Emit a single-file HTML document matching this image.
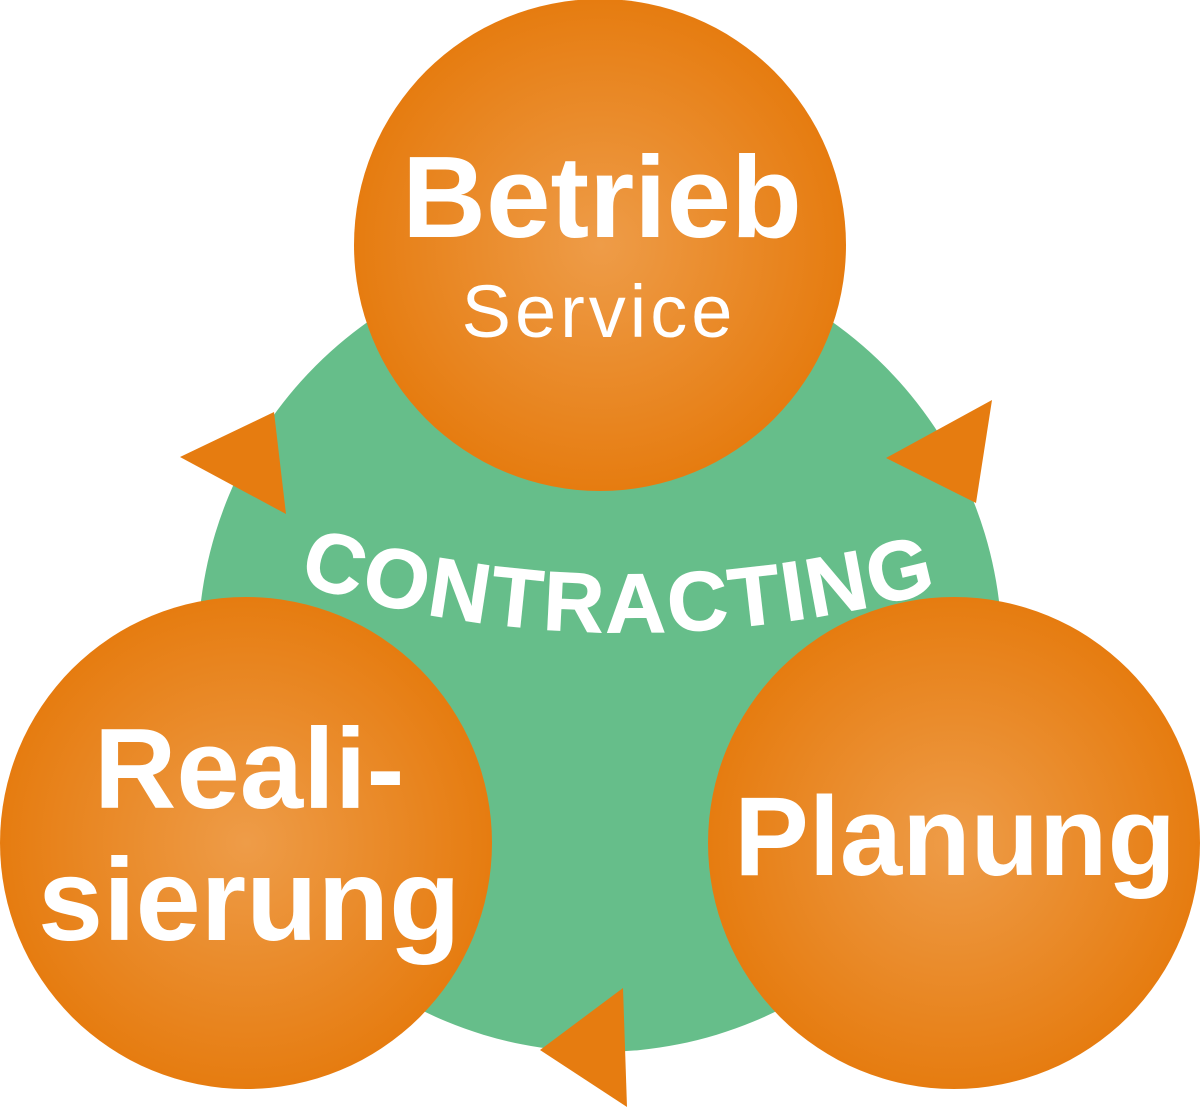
<!DOCTYPE html>
<html><head><meta charset="utf-8"><style>
html,body{margin:0;padding:0;background:#fff;}
svg{display:block;}
text{font-family:"Liberation Sans",Arial,sans-serif;font-weight:bold;fill:#fff;}
</style></head><body>
<svg width="1200" height="1108" viewBox="0 0 1200 1108" xmlns="http://www.w3.org/2000/svg">
<defs>
<radialGradient id="og" cx="50%" cy="50%" r="50%">
<stop offset="0" stop-color="#ee9c48"/>
<stop offset="1" stop-color="#e67c10"/>
</radialGradient>
</defs>
<circle cx="600" cy="650" r="402" fill="#66be8a"/>
<circle cx="600" cy="245" r="246" fill="url(#og)"/>
<circle cx="246" cy="843" r="246" fill="url(#og)"/>
<circle cx="954" cy="843" r="246" fill="url(#og)"/>
<polygon points="180,457 274,412 286,514" fill="#e67c10"/>
<polygon points="886,458 992,400 976,503" fill="#e67c10"/>
<polygon points="540,1050 623,988 627,1107" fill="#e67c10"/>
<text x="602" y="237" font-size="116" text-anchor="middle">Betrieb</text>
<text x="599" y="337" font-size="74" style="font-weight:normal" text-anchor="middle" letter-spacing="4">Service</text>
<text x="94" y="808" font-size="114">Reali-</text>
<text x="38" y="940" font-size="117">sierung</text>
<text x="955" y="875" font-size="112" text-anchor="middle">Planung</text>
<path id="arc" d="M 298 583 Q 612 678 940 590" fill="none"/>
<text font-size="84" style="fill:#fff;stroke:#fff;stroke-width:1"><textPath href="#arc" textLength="648" lengthAdjust="spacing">CONTRACTING</textPath></text>
</svg>
</body></html>
